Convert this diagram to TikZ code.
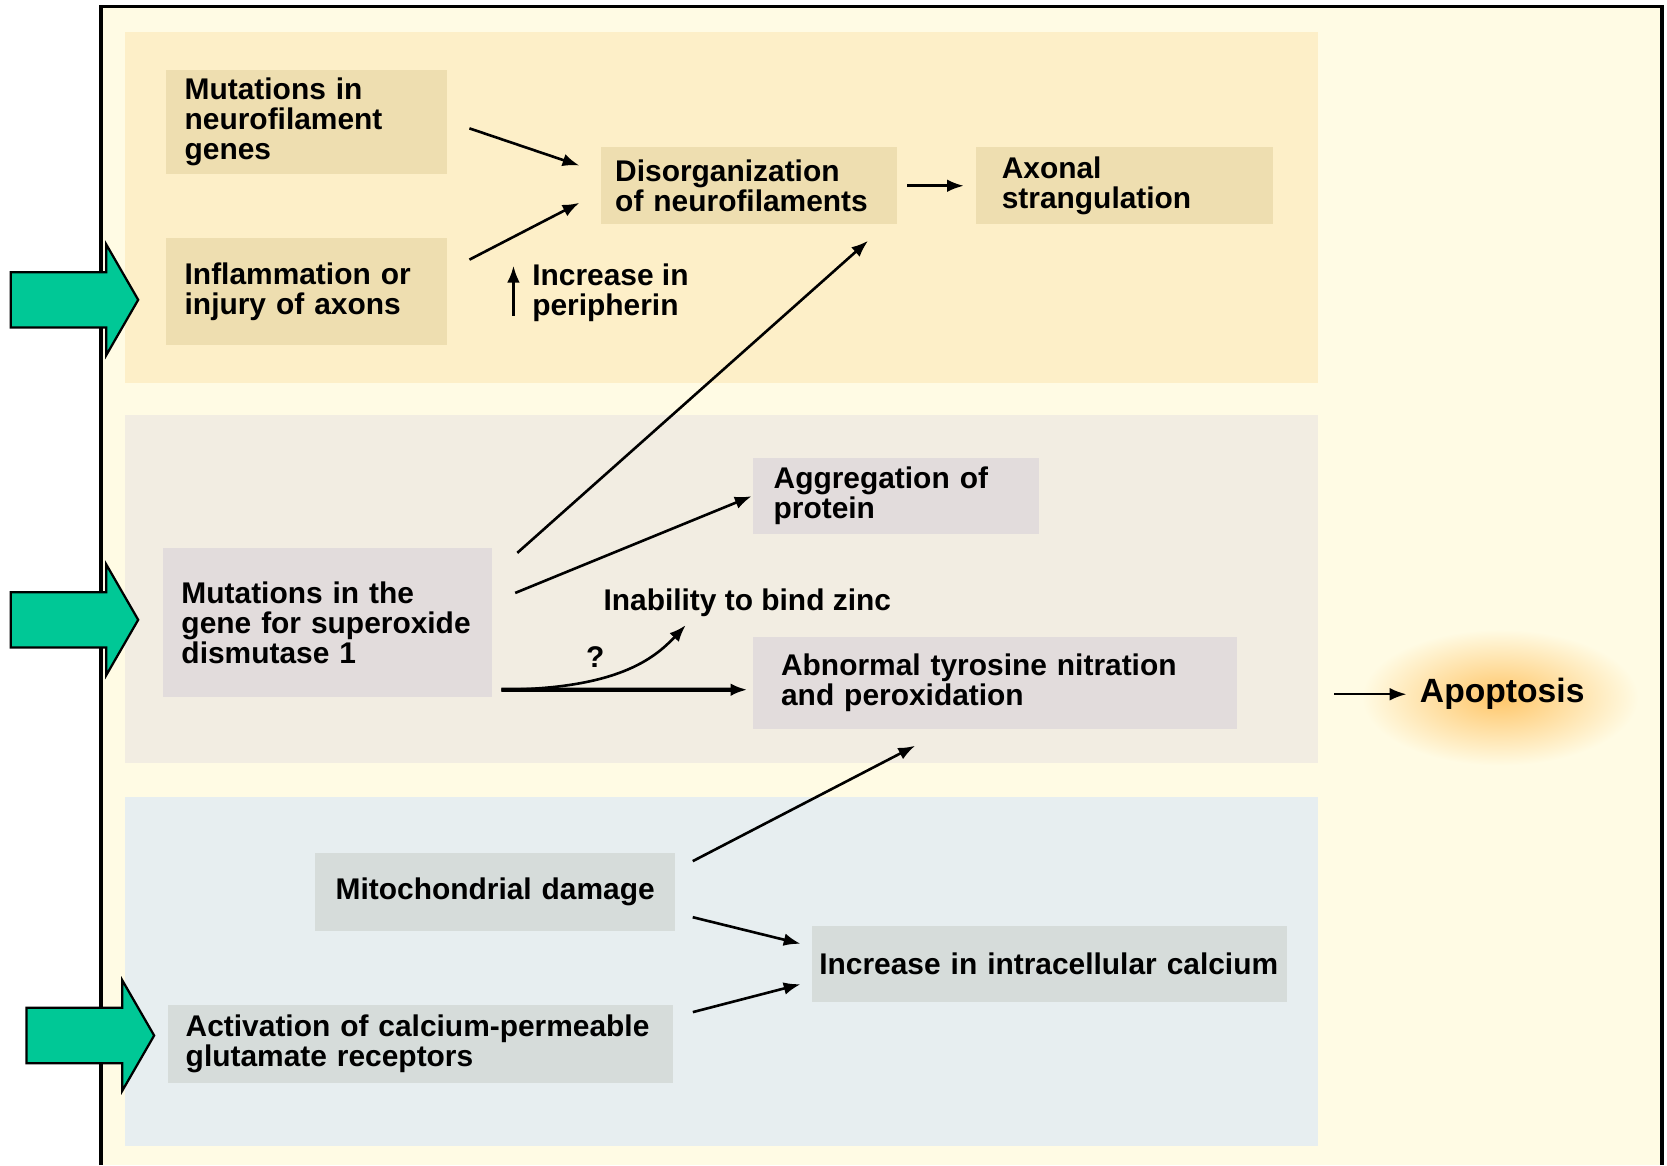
\documentclass[tikz,border=0pt]{standalone}
\usepackage{fontspec}
\setmainfont{Liberation Sans}
\usetikzlibrary{positioning,arrows.meta}
\definecolor{cream}{RGB}{255,251,228}
\definecolor{toppanel}{RGB}{253,239,200}
\definecolor{midpanel}{RGB}{242,237,226}
\definecolor{lowpanel}{RGB}{231,238,240}
\definecolor{topfill}{RGB}{238,222,176}
\definecolor{midfill}{RGB}{226,220,220}
\definecolor{lowfill}{RGB}{214,220,218}
\definecolor{entry}{RGB}{0,200,150}
\definecolor{glow}{RGB}{255,198,105}
\tikzset{
  >={Latex[length=4.5pt,width=3.4pt]},
  box/.style={rectangle,anchor=north west,align=left,inner ysep=0pt,
    font=\bfseries\fontsize{8}{8}\selectfont},
  topbox/.style={box,fill=topfill},
  midbox/.style={box,fill=midfill},
  lowbox/.style={box,fill=lowfill},
  note/.style={inner sep=0pt,align=left,font=\bfseries\fontsize{8}{8}\selectfont},
  dedge/.style={draw,->,line width=.7pt},
  entry arrow/.style={fill=entry,draw=black,line width=.6pt},
}

\begin{document}
\begin{tikzpicture}[x=0.01cm,y=-0.01cm]
  \useasboundingbox (0,0) rectangle (1568,1096);
  \fill[cream] (95,6) rectangle (1563,1096);
  \shade[inner color=glow,outer color=cream] (1411,656)
    ellipse [x radius=1.3cm,y radius=.64cm];
  % three panels
  \fill[toppanel] (118,30) rectangle (1240,360);
  \fill[midpanel] (118,390) rectangle (1240,718);
  \fill[lowpanel] (118,750) rectangle (1240,1078);
  \draw[line width=1pt] (95,1096) |- (1563,6) -- (1563,1096);

  \node[topbox,text width=2.29cm,inner xsep=.18cm,minimum height=.98cm]
    (nfgenes) at (155,65) {Mutations in\\neurofilament\\genes};
  \node[topbox,text width=2.29cm,inner xsep=.18cm,minimum height=1cm,
    below=.59cm of nfgenes] (inflam) {Inflammation or\\injury of axons};
  \node[topbox,text width=2.52cm,inner xsep=.13cm,minimum height=.72cm]
    (disorg) at (565,138) {Disorganization\\of neurofilaments};
  \node[topbox,text width=2.31cm,inner xsep=.24cm,minimum height=.72cm,
    right=.73cm of disorg] (axonal) {Axonal\\strangulation};
  \node[note,anchor=west] (perip) at (500,275) {Increase in\\peripherin};

  \node[midbox,text width=2.75cm,inner xsep=.17cm,minimum height=1.4cm]
    (sod1) at (153,515) {Mutations in the\\gene for superoxide\\dismutase 1};
  \node[midbox,text width=2.30cm,inner xsep=.19cm,minimum height=.72cm]
    (aggr) at (708,430) {Aggregation of\\protein};
  \node[note,anchor=west] (zinc) at (567,567) {Inability to bind zinc};
  \node[midbox,text width=4.03cm,inner xsep=.26cm,minimum height=.87cm]
    (tyro) at (708,598) {Abnormal tyrosine nitration\\and peroxidation};
  \node[note] (qmark) at (560,618) {?};

  \node[lowbox,text width=3.1cm,inner xsep=.14cm,minimum height=.73cm,
    align=center] (mito) at (296,802) {Mitochondrial damage};
  \node[lowbox,text width=4.33cm,inner xsep=.07cm,minimum height=.72cm]
    (calcium) at (763,870) {Increase in intracellular calcium};
  \node[lowbox,text width=4.41cm,inner xsep=.17cm,minimum height=.73cm]
    (glut) at (157,945) {Activation of calcium-permeable\\glutamate receptors};

  \node[font=\bfseries\fontsize{9}{9}\selectfont,inner sep=.12cm]
    (apop) at (1413,653) {Apoptosis};
  \coordinate (apin) at (1255,653);

  \draw[dedge] ([xshift=.2cm,yshift=-.06cm]nfgenes.east)
    -- ([xshift=-.2cm,yshift=.19cm]disorg.west);
  \draw[dedge] ([xshift=.2cm,yshift=.3cm]inflam.east)
    -- ([xshift=-.2cm,yshift=-.16cm]disorg.west);
  \draw[dedge,shorten <=.09cm,shorten >=.11cm] (disorg) -- (axonal);
  \draw[dedge] ([xshift=-.17cm,yshift=-.22cm]perip.west)
    -- ([xshift=-.17cm,yshift=.25cm]perip.west);
  \draw[dedge] ([xshift=.23cm,yshift=-.05cm]sod1.north east)
    -- ([xshift=-.28cm,yshift=-.15cm]disorg.south east);
  \draw[dedge] ([xshift=.21cm,yshift=.28cm]sod1.east)
    -- ([xshift=-.01cm]aggr.west);
  \draw[dedge,line width=1.1pt] ([xshift=.08cm,yshift=-.63cm]sod1.east)
    -- ([xshift=-.05cm,yshift=-.065cm]tyro.west);
  \draw[dedge] ([xshift=.08cm,yshift=-.63cm]sod1.east)
    .. controls (580,648) and (615,620) .. ([xshift=.78cm,yshift=-.21cm]zinc.west);
  \draw[dedge] ([xshift=.16cm,yshift=-.08cm]mito.north east)
    -- ([xshift=-.755cm,yshift=-.15cm]tyro.south);
  \draw[dedge] ([xshift=.16cm,yshift=-.235cm]mito.east)
    -- ([xshift=-.1cm,yshift=.19cm]calcium.west);
  \draw[dedge] ([xshift=.18cm,yshift=-.07cm]glut.north east)
    -- ([xshift=-.1cm,yshift=-.19cm]calcium.west);
  \draw[dedge,line width=.6pt] (apin) -- (apop);

  % entry arrows
  \foreach \dx/\cy in {0/282,0/583,15/974}
    \draw[entry arrow] (10+\dx,\cy-26) -- (100+\dx,\cy-26) -- (100+\dx,\cy-52)
      -- (130+\dx,\cy) -- (100+\dx,\cy+52) -- (100+\dx,\cy+26)
      -- (10+\dx,\cy+26) -- cycle;
\end{tikzpicture}
\end{document}
